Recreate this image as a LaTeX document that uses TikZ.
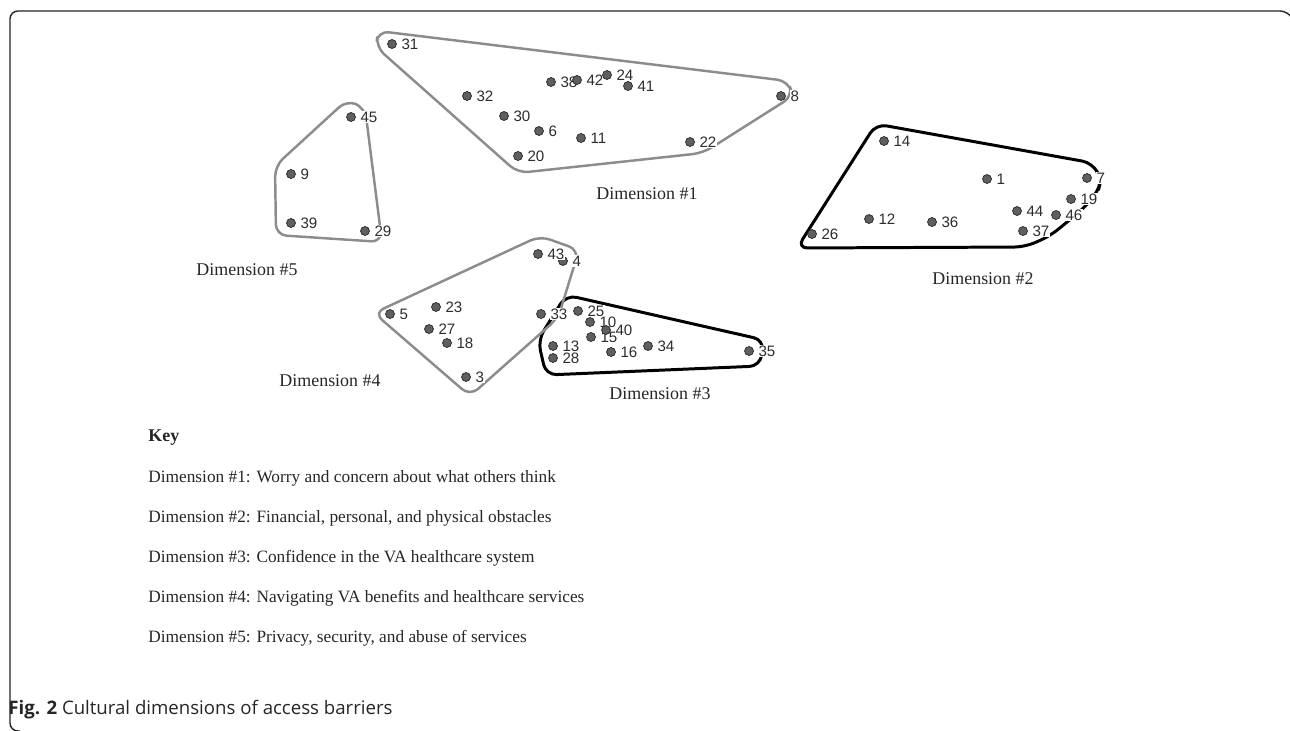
\documentclass[tikz,border=0pt]{standalone}
\usepackage{fontspec}
\setmainfont{Liberation Serif}
\setsansfont{Liberation Sans}
\newfontfamily\capfont{Open Sans}
\usetikzlibrary{positioning}
\definecolor{hullgray}{RGB}{140,140,140}
\definecolor{dotgray}{RGB}{95,95,95}
\definecolor{numgray}{RGB}{45,45,45}
\definecolor{framegray}{RGB}{35,35,35}

\begin{document}
\begin{tikzpicture}[x=0.02cm, y=-0.02cm, label distance=2pt,
	dot/.style={circle, draw=black!85, fill=dotgray, line width=0.4pt, inner sep=0pt, minimum size=5.1pt},
	num/.style={font=\sffamily\fontsize{8.6}{9}\selectfont, text=numgray, fill=white, inner sep=0.5pt},
	grayhull/.style={draw=hullgray, line width=1.4pt, rounded corners=6pt},
	blackhull/.style={draw=black, line width=1.7pt, rounded corners=6pt},
	dimlabel/.style={font=\fontsize{10.2}{12}\selectfont, text=black!85},
	keyline/.style={font=\fontsize{9.85}{12}\selectfont, text=black!85, inner sep=0pt}]
	\useasboundingbox (0,0) rectangle (1290,730);
	% frame
	\draw[framegray, line width=0.8pt, rounded corners=4.5pt] (1292,18) -- (1288,11) -- (10,11) -- (10,731) -- (20,731);

	% cluster outlines
	\draw[grayhull] (378,31) -- (788,81) -- (793,96) -- (703,153) -- (518,173) -- (376,47) -- cycle;
	\draw[blackhull] (876,124) -- (1093,163) -- (1101,180) -- (1098,192) -- (1083,209) -- (1050,236) -- (1025,247) -- (797,248) -- cycle;
	\draw[blackhull] (566,295) -- (764,340) -- (760,366) -- (546,375) -- (538,340) -- cycle;
	\draw[grayhull] (374,313) -- (540,236) -- (579,250) -- (558,318) -- (470,396) -- cycle;
	\draw[grayhull] (347,100) -- (365,108) -- (382,242) -- (276,235) -- (275,166) -- cycle;

	% dimension #1
	\node[dot, label={[num]right:31}] (p31) at (392,44) {};
	\node[dot, label={[num]right:32}] (p32) at (467,96) {};
	\node[dot, label={[num]right:30}] (p30) at (504,116) {};
	\node[dot, label={[num]right:6}] (p6) at (539,131) {};
	\node[dot, label={[num]right:20}] (p20) at (518,156) {};
	\node[dot, label={[num]right:11}] (p11) at (581,138) {};
	\node[dot, label={[num]right:38}] (p38) at (551,82) {};
	\node[dot, label={[num]right:42}] (p42) at (577,80) {};
	\node[dot, label={[num]right:24}] (p24) at (607,75) {};
	\node[dot, label={[num]right:41}] (p41) at (628,86) {};
	\node[dot, label={[num]right:22}] (p22) at (690,142) {};
	\node[dot, label={[num]right:8}] (p8) at (781,96) {};
	% dimension #2
	\node[dot, label={[num]right:14}] (p14) at (884,141) {};
	\node[dot, label={[num]right:1}] (p1) at (987,179) {};
	\node[dot, label={[num]right:7}] (p7) at (1087,178) {};
	\node[dot, label={[num]right:19}] (p19) at (1071,199) {};
	\node[dot, label={[num]right:44}] (p44) at (1017,211) {};
	\node[dot, label={[num]right:46}] (p46) at (1056,215) {};
	\node[dot, label={[num]right:12}] (p12) at (869,219) {};
	\node[dot, label={[num]right:36}] (p36) at (932,222) {};
	\node[dot, label={[num]right:37}] (p37) at (1023,231) {};
	\node[dot, label={[num]right:26}] (p26) at (812,234) {};
	% dimension #3
	\node[dot, label={[num]right:25}] (p25) at (578,311) {};
	\node[dot, label={[num]right:10}] (p10) at (590,322) {};
	\node[dot, label={[num]right:15}] (p15) at (591,337) {};
	\node[dot, label={[num]right:40}] (p40) at (606,330) {};
	\node[dot, label={[num]right:13}] (p13) at (553,346) {};
	\node[dot, label={[num]right:28}] (p28) at (553,358) {};
	\node[dot, label={[num]right:16}] (p16) at (611,352) {};
	\node[dot, label={[num]right:34}] (p34) at (648,346) {};
	\node[dot, label={[num]right:35}] (p35) at (749,351) {};
	% dimension #4
	\node[dot, label={[num]right:4}] (p4) at (563,261) {};
	\node[dot, label={[num]right:43}] (p43) at (538,254) {};
	\node[dot, label={[num]right:5}] (p5) at (390,314) {};
	\node[dot, label={[num]right:23}] (p23) at (436,307) {};
	\node[dot, label={[num]right:27}] (p27) at (429,329) {};
	\node[dot, label={[num]right:18}] (p18) at (447,343) {};
	\node[dot, label={[num]right:33}] (p33) at (541,314) {};
	\node[dot, label={[num]right:3}] (p3) at (466,377) {};
	% dimension #5
	\node[dot, label={[num]right:45}] (p45) at (351,117) {};
	\node[dot, label={[num]right:9}] (p9) at (291,174) {};
	\node[dot, label={[num]right:39}] (p39) at (291,223) {};
	\node[dot, label={[num]right:29}] (p29) at (365,231) {};

	% cluster names
	\node[dimlabel] (d1) at (647,194) {Dimension \#1};
	\node[dimlabel] (d2) at (983,279) {Dimension \#2};
	\node[dimlabel] (d3) at (660,394) {Dimension \#3};
	\node[dimlabel] (d4) at (330,381) {Dimension \#4};
	\node[dimlabel] (d5) at (247,270) {Dimension \#5};

	% key
	\node[keyline, anchor=west, font=\bfseries\fontsize{10.2}{12}\selectfont] (key) at (148,438) {Key};
	\node[keyline, anchor=west] (k1) at (148,478) {Dimension \#1: Worry and concern about what others think};
	\node[keyline, below=0.8cm of k1.west, anchor=west] (k2) {Dimension \#2: Financial, personal, and physical obstacles};
	\node[keyline, below=0.8cm of k2.west, anchor=west] (k3) {Dimension \#3: Confidence in the VA healthcare system};
	\node[keyline, below=0.8cm of k3.west, anchor=west] (k4) {Dimension \#4: Navigating VA benefits and healthcare services};
	\node[keyline, below=0.8cm of k4.west, anchor=west] (k5) {Dimension \#5: Privacy, security, and abuse of services};

	% caption
	\node[anchor=west, inner sep=0pt, font=\capfont\fontsize{10.6}{12}\selectfont, text=black!85] (cap) at (8,710) {\textbf{Fig. 2} Cultural dimensions of access barriers};
\end{tikzpicture}
\end{document}
